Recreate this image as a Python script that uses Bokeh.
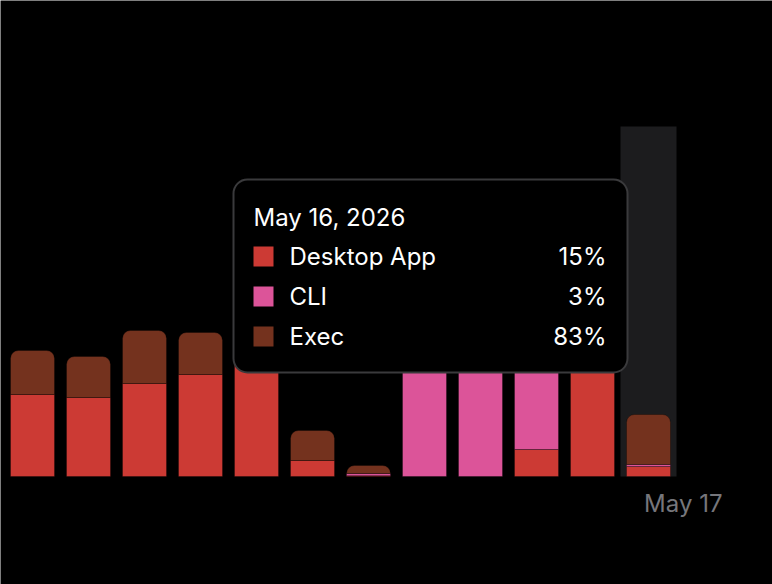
import numpy as np
from bokeh.plotting import figure
from bokeh.models import ColumnDataSource, Range1d, Label, BoxAnnotation
from bokeh.embed import file_html
from bokeh.resources import INLINE

# ---- data ----
days = ["May 5", "May 6", "May 7", "May 8", "May 9", "May 10", "May 11",
        "May 12", "May 13", "May 14", "May 15", "May 16"]
series_names = ["Desktop App", "CLI", "Exec"]
desktop_app = [82, 79, 93, 102, 128, 16, 0.8, 0, 0, 27, 170, 10]
cli = [0, 0, 0, 0, 0, 0, 2.2, 160, 185, 145, 0, 2]
exec_ = [44, 41, 53, 42, 30, 30, 8, 0, 0, 0, 0, 50]
colors = ["#cc3a34", "#dc5499", "#74321e"]
highlight_index = 11
tooltip_title = "May 16, 2026"
tooltip_values = ["15%", "3%", "83%"]
end_label = "May 17"

W, H = 772, 584
# mapping helpers (pixel -> data) so the layout matches the canvas
X0, DX = 32.0, 56.0
Y0 = 476.0
def px2x(px):
    return (px - X0) / DX
def py2y(py):
    return Y0 - py

p = figure(width=W, height=H, output_backend="svg", toolbar_location=None,
           x_range=Range1d(px2x(0), px2x(W)), y_range=Range1d(py2y(H), py2y(0)),
           min_border=0, background_fill_color="black", border_fill_color="black",
           outline_line_color=None)
p.axis.visible = False
p.grid.visible = False

n = len(days)

# highlight band for the hovered day
p.quad(left=[highlight_index - 0.5], right=[highlight_index + 0.5],
       bottom=[0], top=[350], fill_color="#1c1c1e", line_color=None)

series = [desktop_app, cli, exec_]
flat = dict(x=[], bottom=[], top=[], color=[])
rnd = dict(x=[], bottom=[], top=[], color=[])
bottoms = np.zeros(n)
for si, vals in enumerate(series):
    for i in range(n):
        v = vals[i]
        if v <= 0:
            continue
        is_top = all(series[sj][i] <= 0 for sj in range(si + 1, len(series)))
        d = rnd if is_top else flat
        d["x"].append(i)
        d["bottom"].append(bottoms[i])
        d["top"].append(bottoms[i] + v)
        d["color"].append(colors[si])
    bottoms = bottoms + np.array(vals, dtype=float)

bw = 44 / 56
p.vbar(x="x", bottom="bottom", top="top", width=bw, fill_color="color",
       line_color="black", line_alpha=0.3, line_width=1,
       source=ColumnDataSource(flat))
p.vbar(x="x", bottom="bottom", top="top", width=bw, fill_color="color",
       line_color="black", line_alpha=0.3, line_width=1,
       border_radius=(8, 8, 0, 0), source=ColumnDataSource(rnd))

# tooltip box
box = BoxAnnotation(left=px2x(233), right=px2x(627), top=py2y(179), bottom=py2y(372),
                    fill_color="black", fill_alpha=1.0, line_color="#3a3a3c",
                    line_width=2, line_alpha=1.0, border_radius=14)
p.add_layout(box)

FONT = "Inter"
FS = "24px"
p.add_layout(Label(x=px2x(253), y=py2y(217), text=tooltip_title, text_color="white",
                   text_font=FONT, text_font_size=FS, text_baseline="middle"))
row_y = [256, 296, 336]
p.scatter(x=[px2x(263)] * 3, y=[py2y(r) for r in row_y], marker="square", size=20,
          fill_color=colors, line_color=None, level="overlay")
for k in range(3):
    p.add_layout(Label(x=px2x(289), y=py2y(row_y[k]), text=series_names[k],
                       text_color="white", text_font=FONT, text_font_size=FS,
                       text_baseline="middle"))
    p.add_layout(Label(x=px2x(606), y=py2y(row_y[k]), text=tooltip_values[k],
                       text_color="white", text_font=FONT, text_font_size=FS,
                       text_baseline="middle", text_align="right"))

p.add_layout(Label(x=px2x(722), y=py2y(503), text=end_label, text_color="#76767b",
                   text_font=FONT, text_font_size=FS, text_baseline="middle",
                   text_align="right"))

open("out.html", "w").write(file_html(p, INLINE))
